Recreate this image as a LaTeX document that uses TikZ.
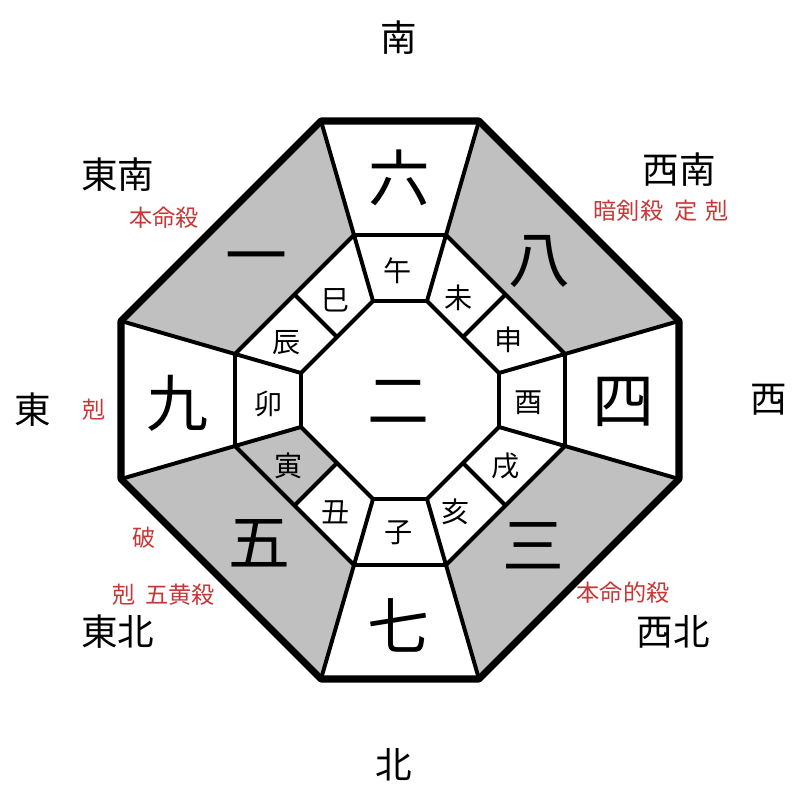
\documentclass[tikz,border=0pt]{standalone}
\usepackage{fontspec}
\setmainfont{Noto Sans CJK JP}
\usetikzlibrary{calc}
\definecolor{cellgray}{RGB}{192,192,192}
\definecolor{notered}{RGB}{200,55,55}
\tikzset{
  num_node/.style = {inner sep=0pt, font=\fontsize{44}{44}\selectfont},% kyusei number
  branch_node/.style = {inner sep=0pt, font=\fontsize{20}{20}\selectfont},% junishi
  dir_node/.style = {inner sep=0pt, font=\fontsize{26}{26}\selectfont},% direction
  red_note/.style = {inner sep=0pt, notered, font=\fontsize{16.5}{16.5}\selectfont},
  gray_cell/.style = {fill=cellgray},
  cell_line/.style = {line width=2.8pt, line join=round},
  rim_line/.style = {line width=5pt, line join=round}
}

\begin{document}
\begin{tikzpicture}[x=0.025cm, y=0.025cm]
  \useasboundingbox (-400,-400) rectangle (400,400);
  % outer rim, middle ring, center
  \foreach \pre/\half/\side in {o/279/79, m/165/46, i/99/27}{
    \coordinate (\pre1) at (-\side,\half);
    \coordinate (\pre2) at (\side,\half);
    \coordinate (\pre3) at (\half,\side);
    \coordinate (\pre4) at (\half,-\side);
    \coordinate (\pre5) at (\side,-\half);
    \coordinate (\pre6) at (-\side,-\half);
    \coordinate (\pre7) at (-\half,-\side);
    \coordinate (\pre8) at (-\half,\side);
  }
  \foreach \pre in {m,i}{
    \coordinate (\pre23) at ($(\pre2)!.5!(\pre3)$);
    \coordinate (\pre45) at ($(\pre4)!.5!(\pre5)$);
    \coordinate (\pre67) at ($(\pre6)!.5!(\pre7)$);
    \coordinate (\pre81) at ($(\pre8)!.5!(\pre1)$);
  }
  \fill[gray_cell] (o8) -- (o1) -- (m1) -- (m8) -- cycle;
  \fill[gray_cell] (o2) -- (o3) -- (m3) -- (m2) -- cycle;
  \fill[gray_cell] (o4) -- (o5) -- (m5) -- (m4) -- cycle;
  \fill[gray_cell] (o6) -- (o7) -- (m7) -- (m6) -- cycle;
  \fill[gray_cell] (m67) -- (m7) -- (i7) -- (i67) -- cycle;
  \draw[cell_line] (m1) -- (m2) -- (m3) -- (m4) -- (m5) -- (m6) -- (m7) -- (m8) -- cycle;
  \draw[cell_line] (i1) -- (i2) -- (i3) -- (i4) -- (i5) -- (i6) -- (i7) -- (i8) -- cycle;
  \foreach \k in {1,...,8}
    \draw[cell_line] (o\k) -- (m\k) -- (i\k);
  \foreach \k in {23,45,67,81}
    \draw[cell_line] (m\k) -- (i\k);
  \draw[rim_line] (o1) -- (o2) -- (o3) -- (o4) -- (o5) -- (o6) -- (o7) -- (o8) -- cycle;

  \node[num_node] (n_center) at (-2,-2) {二};
  \node[num_node] (n_s) at (-1,222) {六};
  \node[num_node] (n_sw) at (139,138) {八};
  \node[num_node] (n_w) at (223,-2) {四};
  \node[num_node] (n_nw) at (133,-146) {三};
  \node[num_node] (n_n) at (-2,-225) {七};
  \node[num_node] (n_ne) at (-141,-143) {五};
  \node[num_node] (n_e) at (-223,-3) {九};
  \node[num_node] (n_se) at (-144,135) {一};

  \node[branch_node] (b_uma) at (-2,129) {午};
  \node[branch_node] (b_hitsuji) at (59,102) {未};
  \node[branch_node] (b_saru) at (109,60) {申};
  \node[branch_node] (b_tori) at (129,-3) {酉};
  \node[branch_node] (b_inu) at (106,-66) {戌};
  \node[branch_node] (b_i) at (56,-112) {亥};
  \node[branch_node] (b_ne) at (-1,-133) {子};
  \node[branch_node] (b_ushi) at (-64,-112) {丑};
  \node[branch_node] (b_tora) at (-111,-66) {寅};
  \node[branch_node] (b_u) at (-131,-4) {卯};
  \node[branch_node] (b_tatsu) at (-113,57) {辰};
  \node[branch_node] (b_mi) at (-64,100) {巳};

  \node[dir_node] (d_s) at (-1,362) {南};
  \node[dir_node] (d_n) at (-6,-365) {北};
  \node[dir_node] (d_e) at (-367,-10) {東};
  \node[dir_node] (d_w) at (369,0) {西};
  \node[dir_node] (d_se) at (-282,225) {東南};
  \node[dir_node] (d_sw) at (279,230) {西南};
  \node[dir_node] (d_ne) at (-282,-232) {東北};
  \node[dir_node] (d_nw) at (273,-232) {西北};

  \node[red_note] (r_se) at (-236,182) {本命殺};
  \node[red_note] (r_sw) at (261,189) {暗剣殺\hspace{.5em}定\hspace{.3em}剋};
  \node[red_note] (r_e) at (-306,-10) {剋};
  \node[red_note] (r_ne1) at (-256,-138) {破};
  \node[red_note] (r_ne2) at (-236,-195) {剋\hspace{.4em}五黄殺};
  \node[red_note] (r_nw) at (223,-193) {本命的殺};
\end{tikzpicture}
\end{document}
